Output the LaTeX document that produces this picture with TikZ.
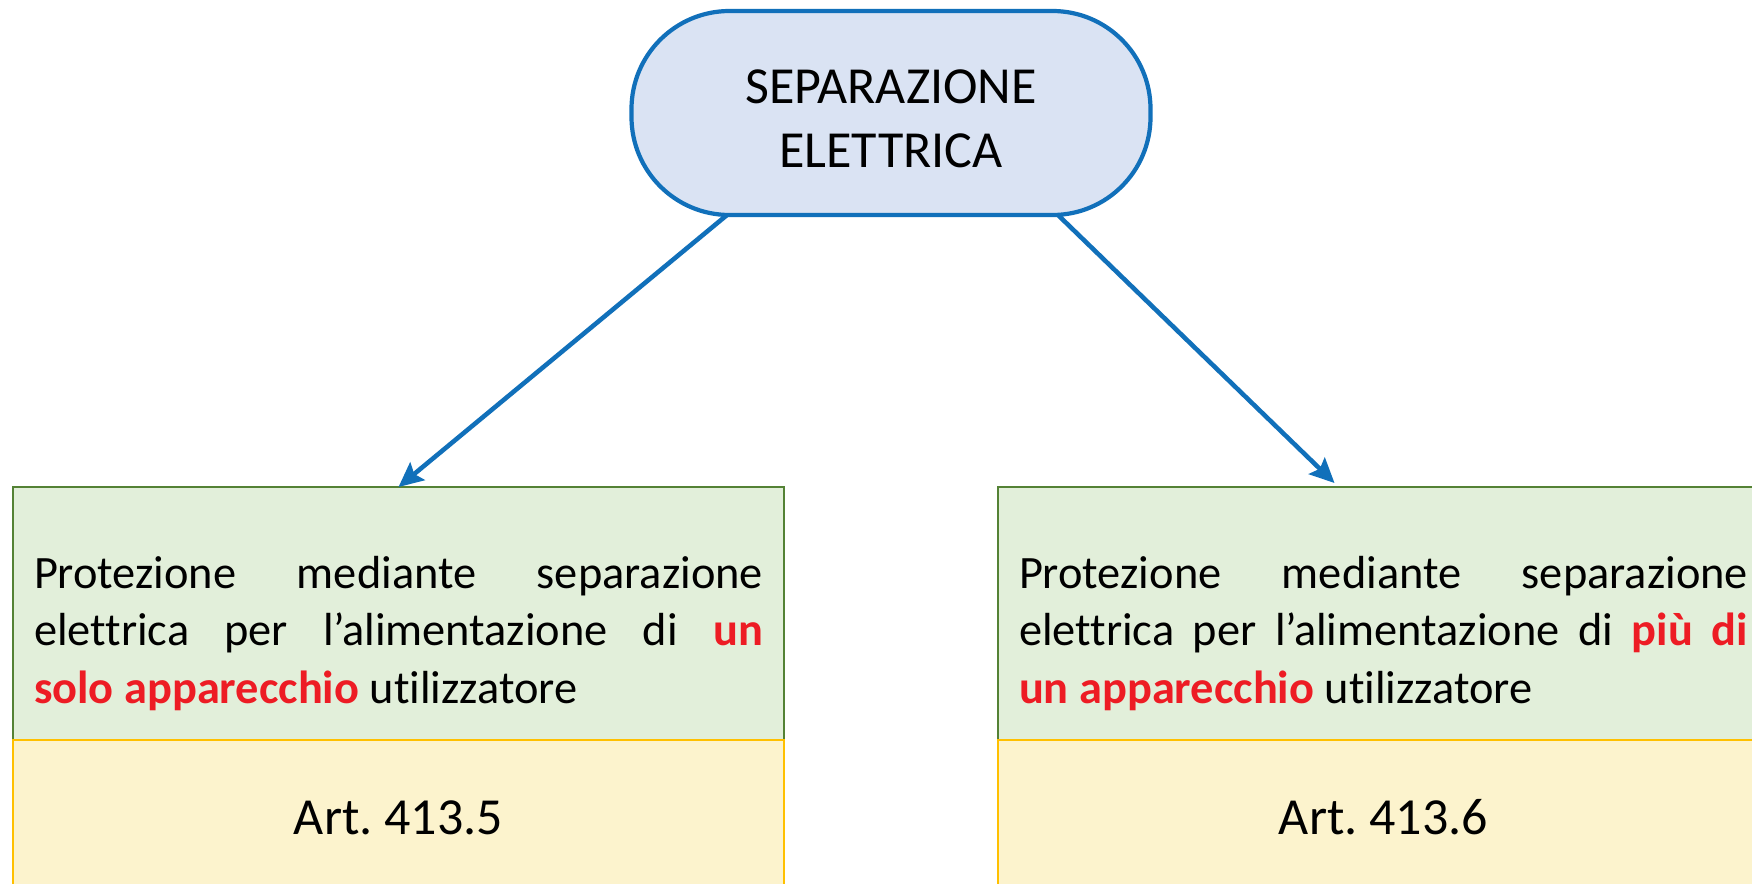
\documentclass[tikz,border=0pt]{standalone}
\usepackage{fontspec}
\setmainfont{Carlito}[Ligatures={NoCommon}]
\frenchspacing
\usetikzlibrary{arrows.meta,positioning}

\definecolor{sepblue}{RGB}{17,112,186}
\definecolor{sepfill}{RGB}{218,227,243}
\definecolor{protgreen}{RGB}{84,130,53}
\definecolor{protfill}{RGB}{226,239,218}
\definecolor{artline}{RGB}{255,192,0}
\definecolor{artfill}{RGB}{252,243,205}
\definecolor{keyred}{RGB}{237,28,36}

\def\keyword#1{\textcolor{keyred}{\textbf{#1}}}

\tikzset{
	topnode/.style={draw=sepblue, fill=sepfill, line width=1.2pt, rounded corners=0.98cm, outer sep=0pt,
		minimum width=5.19cm, minimum height=2.04cm, align=center, font=\fontsize{14.8}{18.2}\selectfont},
	protbox/.style={draw=protgreen, fill=protfill, line width=0.6pt, outer sep=0pt,
		minimum width=7.71cm, minimum height=2.53cm},
	artbox/.style={draw=artline, fill=artfill, line width=0.6pt, outer sep=0pt,
		minimum width=7.71cm, minimum height=1.55cm, font=\fontsize{14.8}{18.2}\selectfont},
	prottext/.style={text width=7.29cm, align=justify, inner sep=0pt, font=\fontsize{13.2}{16.3}\selectfont},
	sepline/.style={draw=sepblue, line width=1.3pt, -{Stealth[length=7pt, width=6.5pt, inset=1.2pt]}}
}

\begin{document}
\begin{tikzpicture}
			%%%%% START %%%%%
			\clip (0, 0) rectangle (17.52, -8.83);
			\fill[white] (0, 0) rectangle (17.52, -8.83);
			
			\node[topnode] (sep) at (8.91, -1.13) {\raisebox{-0.06cm}[\height][\depth]{\parbox{4.4cm}{\centering SEPARAZIONE\\ELETTRICA}}};
			
			% left column
			\node[protbox] (lprot) at (3.985, -6.135) {};
			\node[artbox, below=0pt of lprot] (lart) {Art. 413.5};
			\node[prottext] (ltext) at ([yshift=-0.2cm]lprot.center) {Protezione mediante separazione\linebreak
				elettrica per l’alimentazione di \keyword{un}\linebreak \keyword{solo apparecchio} utilizzatore};
			
			% right column
			\node[protbox] (rprot) at (13.835, -6.135) {};
			\node[artbox, below=0pt of rprot] (rart) {Art. 413.6};
			\node[prottext] (rtext) at ([yshift=-0.2cm]rprot.center) {Protezione mediante separazione\linebreak
				elettrica per l’alimentazione di \keyword{più di}\linebreak \keyword{un apparecchio} utilizzatore};
			
			\draw[sepline] ([xshift=-1.64cm]sep.south) -- (lprot.north);
			\draw[sepline] ([xshift=1.67cm]sep.south) -- ([xshift=-0.49cm, yshift=0.04cm]rprot.north);
			
			%%%%% END %%%%%
\end{tikzpicture}
\end{document}
